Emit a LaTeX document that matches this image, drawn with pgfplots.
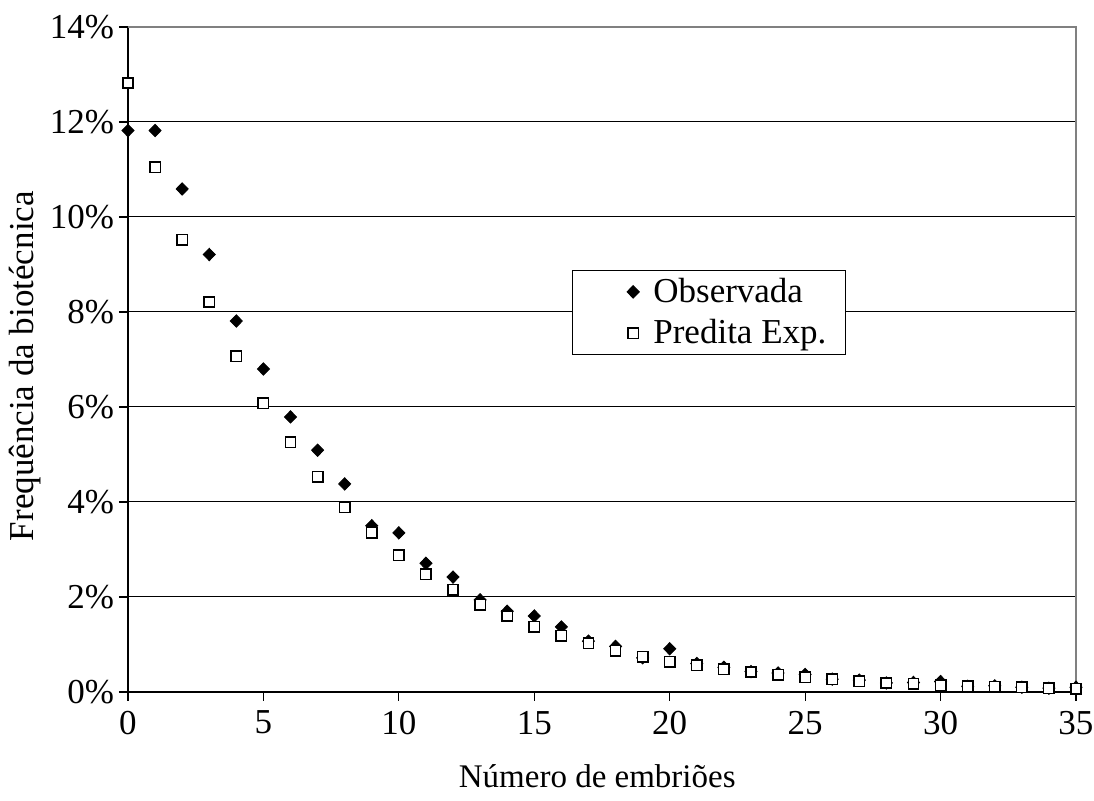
\documentclass[border=0pt]{standalone}
\usepackage{pgfplots}
\pgfplotsset{compat=1.18}
\usepackage{fontspec}
\setmainfont{Liberation Serif}
\begin{document}
\begin{tikzpicture}
\useasboundingbox (-64pt,-54.5pt) rectangle (483pt,346pt);
\begin{axis}[
  name=ax,
  at={(0pt,0pt)}, anchor=south west,
  scale only axis,
  width=474pt, height=332.5pt,
  xmin=0, xmax=35, ymin=0, ymax=14,
  clip=false,
  axis x line*=bottom, axis y line*=left,
  axis line style={black, line width=0.6pt},
  xtick={0,5,...,35},
  ytick={0,2,...,14},
  yticklabel={\pgfmathprintnumber{\tick}\%},
  /pgf/number format/assume math mode=true,
  tick align=outside,
  major tick length=4.5pt,
  tick style={black, line width=0.6pt},
  ymajorgrids,
  major grid style={black, line width=0.5pt},
  ticklabel style={font=\fontsize{17.5}{20}\selectfont},
  xticklabel style={yshift=-1.5pt},
  yticklabel style={xshift=1pt},
  xlabel={Número de embriões},
  ylabel={Frequência da biotécnica},
  xlabel style={font=\fontsize{16.5}{19}\selectfont, at={(axis description cs:0.495,-0.127)}, anchor=center},
  ylabel style={font=\fontsize{17.5}{20}\selectfont, at={(axis description cs:-0.1086,0.49)}, anchor=center},
  legend style={at={(rel axis cs:0.468,0.635)}, anchor=north west, draw=black, line width=0.5pt,
    font=\fontsize{17.5}{20}\selectfont, inner xsep=7.5pt, inner ysep=2pt, row sep=3pt,
    /tikz/every odd column/.append style={column sep=5pt}},
  legend cell align=left,
  legend image code/.code={\path (0cm,0cm) (0.9cm,0cm); \draw[#1] plot coordinates {(0.8cm,0cm)};},
]
\addplot[only marks, mark=diamond*, mark size=3.1pt, mark options={xscale=1.3, fill=black, draw=black}] coordinates {
(0,11.82) (1,11.82) (2,10.59) (3,9.21) (4,7.81) (5,6.80) (6,5.79) (7,5.09) (8,4.38) (9,3.50)
(10,3.35) (11,2.71) (12,2.42) (13,1.94) (14,1.70) (15,1.60) (16,1.37) (17,1.07) (18,0.96) (19,0.72)
(20,0.91) (21,0.60) (22,0.52) (23,0.43) (24,0.40) (25,0.37) (26,0.27) (27,0.25) (28,0.19) (29,0.20)
(30,0.22) (31,0.12) (32,0.13) (33,0.10) (34,0.08) (35,0.10)
};
\addlegendentry{Observada}
\addplot[only marks, mark=square*, mark size=2.6pt, mark options={fill=white, draw=black, line width=0.75pt}] coordinates {
(0,12.82) (1,11.05) (2,9.52) (3,8.21) (4,7.07) (5,6.08) (6,5.26) (7,4.53) (8,3.89) (9,3.35)
(10,2.88) (11,2.48) (12,2.15) (13,1.84) (14,1.60) (15,1.37) (16,1.18) (17,1.03) (18,0.87) (19,0.74)
(20,0.64) (21,0.56) (22,0.48) (23,0.42) (24,0.36) (25,0.31) (26,0.27) (27,0.23) (28,0.19) (29,0.17)
(30,0.14) (31,0.12) (32,0.11) (33,0.10) (34,0.08) (35,0.07)
};
\addlegendentry{Predita Exp.}
\draw[gray, line width=0.8pt] (rel axis cs:0,1) -- (rel axis cs:1,1) -- (rel axis cs:1,0);
\end{axis}
\end{tikzpicture}
\end{document}
